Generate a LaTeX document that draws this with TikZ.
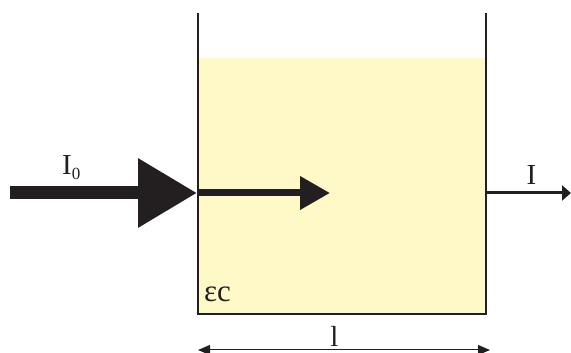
\documentclass[tikz,border=0pt]{standalone}
\usepackage{fontspec}
\setmainfont{Liberation Serif}
\usetikzlibrary{arrows.meta}
\definecolor{ink}{HTML}{231F20}
\definecolor{liquid}{HTML}{FFF9C8}
\begin{document}
\begin{tikzpicture}[x=1pt,y=1pt,
  lbl/.style={inner sep=0pt, text=ink, font=\fontsize{29}{30}\selectfont},
  wall/.style={draw=ink, line width=2.2pt},
  bigarrow/.style={draw=ink, line width=13pt, -{Triangle[length=59pt 0 0, width=66pt 0 0]}},
  midarrow/.style={draw=ink, line width=7pt, -{Triangle[length=30pt 0 0, width=32pt 0 0]}},
  outarrow/.style={draw=ink, line width=3pt, -{Triangle[length=9pt 0 0, width=15pt 0 0]}},
  dimarrow/.style={draw=ink, line width=1pt, {Triangle[length=12pt 0 0, width=10pt 0 0]}-{Triangle[length=12pt 0 0, width=10pt 0 0]}}
]
\useasboundingbox (0,0) rectangle (571,353);
% liquid
\fill[liquid] (198,39) rectangle (486,295);
% container
\coordinate (tl) at (198,340);
\coordinate (bl) at (198,39);
\coordinate (br) at (486,39);
\coordinate (tr) at (486,340);
\draw[wall] (tl) -- (bl) -- (br) -- (tr);
% incoming beam
\coordinate (src) at (10,160);
\coordinate (entry) at (197,160);
\draw[bigarrow] (src) -- (entry);
% beam inside
\coordinate (in0) at (199,160);
\coordinate (in1) at (330,160);
\draw[midarrow] (in0) -- (in1);
% outgoing beam
\coordinate (out0) at (486,160);
\coordinate (out1) at (571,160);
\draw[outarrow] (out0) -- (out1);
% dimension
\coordinate (d0) at (198,3);
\coordinate (d1) at (490,3);
\draw[dimarrow] (d0) -- (d1);
% labels
\node[lbl, anchor=base west] (I0) at (62,178) {I\raisebox{-5pt}{\fontsize{17}{18}\selectfont 0}};
\node[lbl, anchor=base] (I) at (531.5,168) {I};
\node[lbl, anchor=base] (len) at (334.5,6.5) {l};
\node[lbl, anchor=base west, font=\fontsize{31}{32}\selectfont] (eps) at (204,51) {εc};
\end{tikzpicture}
\end{document}
